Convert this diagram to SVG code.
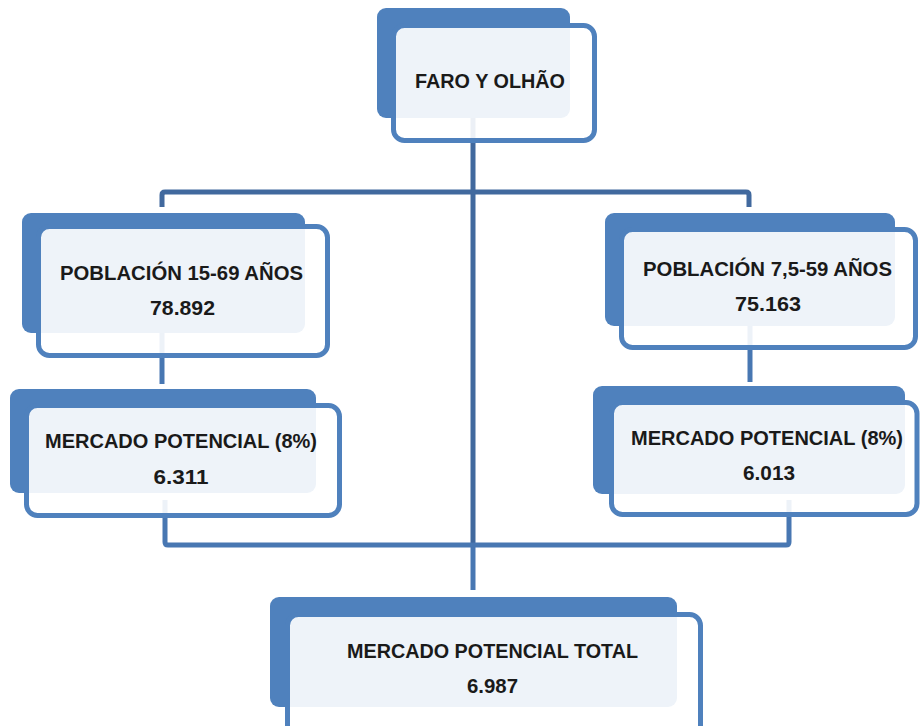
<svg xmlns="http://www.w3.org/2000/svg" width="920" height="726" viewBox="0 0 920 726">
<style>
.back{fill:#4F81BD;}
.front{fill:#FFFFFF;fill-opacity:0.9;stroke:#4F81BD;stroke-width:5;}
.t{font-family:"Liberation Sans",Arial,sans-serif;font-weight:bold;font-size:21px;fill:#1a1a1a;text-anchor:middle;}
.c1{fill:none;stroke:#41699E;stroke-width:5;}
.c2{fill:none;stroke:#4877B2;stroke-width:5;}
</style>
<rect width="920" height="726" fill="#FFFFFF"/>
<g id="connectors">
<line class="c1" x1="473" y1="118" x2="473" y2="545"/>
<line class="c2" x1="473" y1="545" x2="473" y2="590"/>
<path class="c1" d="M162,207 V195 Q162,192 165,192 H746 Q749,192 749,195 V207"/>
<line class="c2" x1="162" y1="333" x2="162" y2="384"/>
<line class="c2" x1="750" y1="326" x2="750" y2="382"/>
<path class="c2" d="M165,500 V542 Q165,545 168,545 H786 Q789,545 789,542 V500"/>
</g>
<g id="node-faro">
<rect class="back" x="377" y="8" width="193" height="110" rx="9"/>
<rect class="front" x="393.5" y="25.5" width="201" height="115" rx="11"/>
<text class="t" x="490" y="88" textLength="150" lengthAdjust="spacingAndGlyphs">FARO Y OLHÃO</text>
</g>
<g id="node-poblacion-left">
<rect class="back" x="22" y="213" width="283" height="120" rx="9"/>
<rect class="front" x="38.5" y="226.5" width="289" height="129" rx="11"/>
<text class="t" x="181.5" y="280" textLength="243" lengthAdjust="spacingAndGlyphs">POBLACIÓN 15-69 AÑOS</text>
<text class="t" x="182.5" y="315" textLength="65" lengthAdjust="spacingAndGlyphs">78.892</text>
</g>
<g id="node-poblacion-right">
<rect class="back" x="605" y="213" width="290" height="113" rx="9"/>
<rect class="front" x="621.5" y="229.5" width="294" height="118" rx="11"/>
<text class="t" x="767.5" y="276" textLength="249" lengthAdjust="spacingAndGlyphs">POBLACIÓN 7,5-59 AÑOS</text>
<text class="t" x="768" y="311" textLength="66" lengthAdjust="spacingAndGlyphs">75.163</text>
</g>
<g id="node-mercado-left">
<rect class="back" x="10" y="389" width="306" height="104" rx="9"/>
<rect class="front" x="26.5" y="405.5" width="313" height="110" rx="11"/>
<text class="t" x="181" y="448" textLength="272" lengthAdjust="spacingAndGlyphs">MERCADO POTENCIAL (8%)</text>
<text class="t" x="181" y="484" textLength="55" lengthAdjust="spacingAndGlyphs">6.311</text>
</g>
<g id="node-mercado-right">
<rect class="back" x="593" y="386" width="312" height="108" rx="9"/>
<rect class="front" x="611.5" y="402.5" width="305.5" height="112" rx="11"/>
<text class="t" x="767" y="445" textLength="272" lengthAdjust="spacingAndGlyphs">MERCADO POTENCIAL (8%)</text>
<text class="t" x="769" y="480" textLength="52" lengthAdjust="spacingAndGlyphs">6.013</text>
</g>
<g id="node-total">
<rect class="back" x="270" y="597" width="407" height="110" rx="9"/>
<rect class="front" x="287.5" y="614.5" width="413" height="125" rx="11"/>
<text class="t" x="492.5" y="658" textLength="291" lengthAdjust="spacingAndGlyphs">MERCADO POTENCIAL TOTAL</text>
<text class="t" x="492.5" y="693" textLength="51" lengthAdjust="spacingAndGlyphs">6.987</text>
</g>
</svg>
